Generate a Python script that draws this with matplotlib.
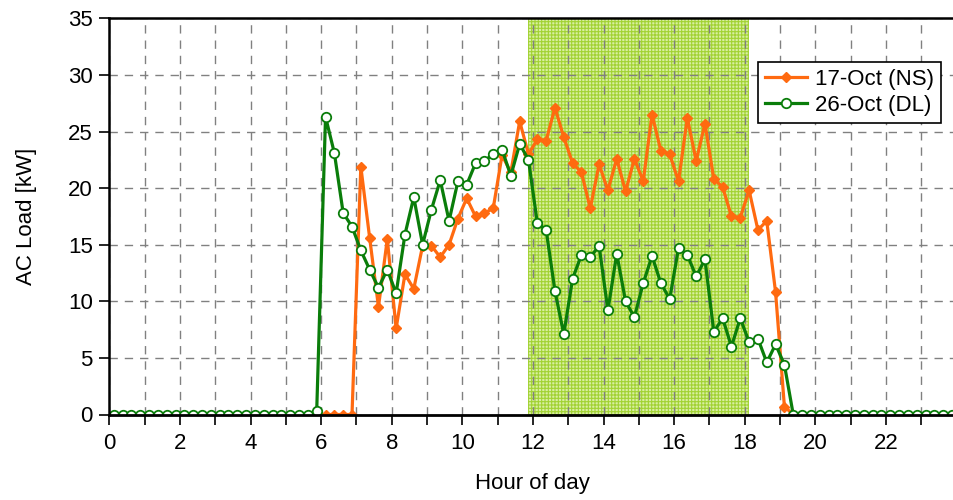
import numpy as np
import matplotlib
matplotlib.use("Agg")
import matplotlib.pyplot as plt
from matplotlib.patches import Rectangle

plt.rcParams['font.family'] = ['Liberation Sans', 'DejaVu Sans']
plt.rcParams['hatch.linewidth'] = 0.8

# 15-minute intervals, plotted at the interval midpoints
hours = np.arange(96) * 0.25 + 0.125

load_17oct = [0.0] * 28 + [
    21.9, 15.6, 9.5, 15.5, 7.6, 12.4, 11.1, 14.9, 14.9, 13.9,
    15.0, 17.3, 19.1, 17.5, 17.8, 18.2, 22.9, 21.4, 25.9, 23.0,
    24.3, 24.2, 27.1, 24.5, 22.2, 21.4, 18.2, 22.1, 19.8, 22.6,
    19.7, 22.6, 20.6, 26.5, 23.3, 23.0, 20.6, 26.2, 22.4, 25.7,
    20.8, 20.1, 17.5, 17.4, 19.8, 16.3, 17.1, 10.8, 0.7,
] + [0.0] * 19

load_26oct = [0.0] * 23 + [
    0.3, 26.3, 23.1, 17.8, 16.6, 14.5, 12.8, 11.2, 12.8, 10.7,
    15.9, 19.2, 15.0, 18.1, 20.7, 17.1, 20.6, 20.3, 22.2, 22.4,
    23.0, 23.4, 21.1, 23.9, 22.5, 16.9, 16.3, 10.9, 7.1, 12.0,
    14.1, 13.9, 14.9, 9.2, 14.2, 10.0, 8.6, 11.6, 14.0, 11.6,
    10.2, 14.7, 14.1, 12.2, 13.7, 7.3, 8.5, 6.0, 8.5, 6.4,
    6.7, 4.6, 6.2, 4.4,
] + [0.0] * 19

series_labels = ["17-Oct (NS)", "26-Oct (DL)"]
highlight_span = (11.875, 18.125)

x_ticks = np.arange(0, 24, 1)
x_tick_labels = [str(h) if h % 2 == 0 else "" for h in x_ticks]
y_ticks = np.arange(0, 36, 5)

fig = plt.figure(figsize=(9.54, 5.0), dpi=100)
ax = fig.add_axes([0.1146, 0.171, 0.888, 0.7924])

# highlighted afternoon window
ax.add_patch(Rectangle((highlight_span[0], 0), highlight_span[1] - highlight_span[0], 35,
                       facecolor="#d8efa0", edgecolor="#a2d234", hatch="+++++",
                       linewidth=0, zorder=0.5))

ax.plot(hours, load_17oct, color="#ff6a10", lw=2.3, marker="D", ms=4.8,
        mfc="#ff6a10", mec="#ff6a10", label=series_labels[0], zorder=3)
ax.plot(hours, load_26oct, color="#0a7d0a", lw=2.3, marker="o", ms=6.8,
        mfc="white", mec="#0a7d0a", mew=1.3, label=series_labels[1], zorder=4)

ax.set_xlim(0, 24)
ax.set_ylim(0, 35)
ax.set_xticks(x_ticks)
ax.set_xticklabels(x_tick_labels)
ax.set_yticks(y_ticks)
ax.tick_params(axis="both", direction="out", length=7, width=1.2, labelsize=16, colors="black")
ax.tick_params(axis="y", pad=5)
ax.tick_params(axis="x", pad=6)

ax.grid(True, which="major", color="#808080", linestyle=(0, (6, 5)), linewidth=1.0, zorder=1)
ax.set_axisbelow(False)
for line in ax.get_xgridlines() + ax.get_ygridlines():
    line.set_zorder(1)

for side in ["left", "bottom", "top"]:
    ax.spines[side].set_color("black")
    ax.spines[side].set_zorder(5)
ax.spines["bottom"].set_linewidth(2.0)
ax.spines["left"].set_linewidth(1.8)
ax.spines["top"].set_linewidth(1.8)
ax.spines["right"].set_visible(False)

ax.set_xlabel("Hour of day", fontsize=16, labelpad=14)
ax.set_ylabel("AC Load [kW]", fontsize=16, labelpad=22)

leg = ax.legend(loc="upper left", bbox_to_anchor=(0.766, 0.89), fontsize=16,
                frameon=True, fancybox=False, edgecolor="black", framealpha=1,
                handlelength=1.9, handletextpad=0.35, borderpad=0.3, labelspacing=0.25,
                borderaxespad=0)
leg.get_frame().set_linewidth(1.2)
leg.set_zorder(10)

fig.savefig("out.png", dpi=100)
